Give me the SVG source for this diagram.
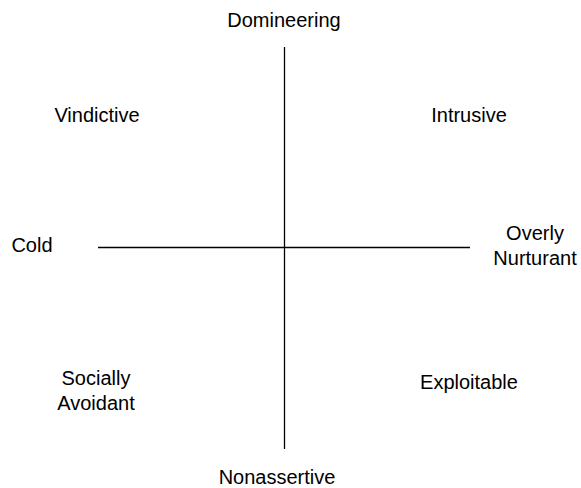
<svg xmlns="http://www.w3.org/2000/svg" width="581" height="488" viewBox="0 0 581 488">
<style>
text{font-family:"Liberation Sans",Arial,sans-serif;font-size:20px;fill:#000;text-anchor:middle}
line{stroke:#000;stroke-width:1.3}
</style>
<rect width="581" height="488" fill="#fff"/>
<g id="connectors">
<line x1="284.5" y1="47" x2="284.5" y2="449"/>
<line x1="98" y1="247.5" x2="470" y2="247.5"/>
</g>
<g id="domineering"><text x="284" y="27">Domineering</text></g>
<g id="vindictive"><text x="97" y="122">Vindictive</text></g>
<g id="intrusive"><text x="469" y="122">Intrusive</text></g>
<g id="cold"><text x="32" y="252">Cold</text></g>
<g id="overly-nurturant"><text x="535" y="240">Overly</text><text x="535" y="265">Nurturant</text></g>
<g id="socially-avoidant"><text x="96" y="385">Socially</text><text x="96" y="410">Avoidant</text></g>
<g id="exploitable"><text x="469" y="389">Exploitable</text></g>
<g id="nonassertive"><text x="277" y="484">Nonassertive</text></g>
</svg>
